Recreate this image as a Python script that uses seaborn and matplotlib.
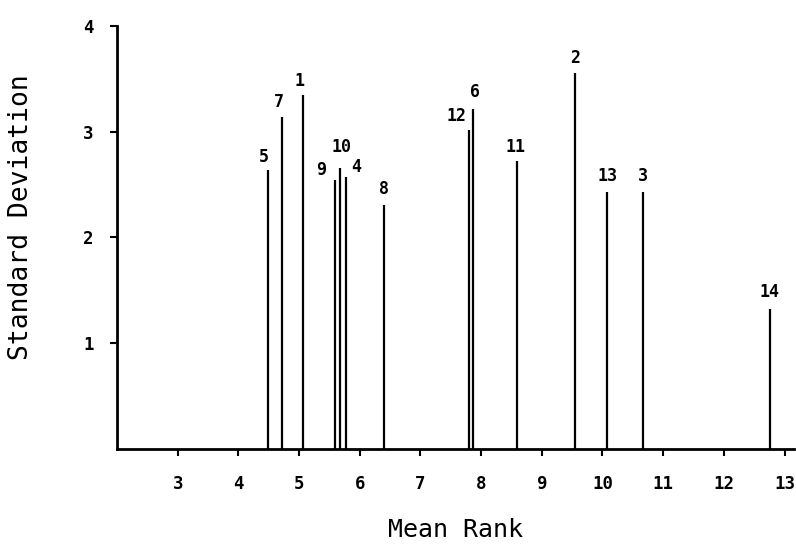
import numpy as np
import matplotlib
matplotlib.use('Agg')
import matplotlib.pyplot as plt
import seaborn as sns

# data
item_ids = ['1', '2', '3', '4', '5', '6', '7', '8', '9', '10', '11', '12', '13', '14']
mean_rank = [5.07, 9.55, 10.66, 5.78, 4.49, 7.87, 4.72, 6.40, 5.59, 5.68, 8.59, 7.80, 10.07, 12.76]
std_dev = [3.35, 3.56, 2.43, 2.57, 2.64, 3.22, 3.14, 2.31, 2.54, 2.66, 2.72, 3.02, 2.43, 1.32]
x_ticks = [3, 4, 5, 6, 7, 8, 9, 10, 11, 12, 13]
y_ticks = [1, 2, 3, 4]

# label offsets in pixels (dx, dy) so crowded labels don't collide
label_offsets = {
    '1': (-4, 14), '2': (0, 15), '3': (0, 16), '4': (10, 10), '5': (-4, 13),
    '6': (2, 17), '7': (-3, 15), '8': (0, 16), '9': (-14, 10), '10': (1, 21),
    '11': (-1, 14), '12': (-12, 14), '13': (1, 16), '14': (0, 17),
}

sns.set_theme(style='ticks')
plt.rcParams['font.family'] = ['DejaVu Sans Mono', 'DejaVu Sans']
plt.rcParams['font.weight'] = 'bold'
for key in ['text.color', 'axes.labelcolor', 'xtick.color', 'ytick.color']:
    plt.rcParams[key] = 'black'

fig = plt.figure(figsize=(7.96, 5.44), dpi=100)
ax = fig.add_axes([0.147, 0.175, 0.85, 0.777])

ax.vlines(mean_rank, 0, std_dev, colors='black', linewidth=1.6)

for name, x, y in zip(item_ids, mean_rank, std_dev):
    dx, dy = label_offsets[name]
    ax.annotate(name, (x, y), xytext=(dx, dy), textcoords='offset pixels',
                ha='center', va='center', fontsize=12, fontweight='bold')

ax.set_xlim(2, 13.15)
ax.set_ylim(0, 4)
ax.set_xticks(x_ticks)
ax.set_yticks(y_ticks)
ax.set_xticklabels([str(t) for t in x_ticks])
ax.set_yticklabels([str(t) for t in y_ticks])

ax.tick_params(axis='x', direction='out', length=5, width=1.5, pad=14, labelsize=12.5)
ax.tick_params(axis='y', direction='out', length=5, width=1.5, pad=12, labelsize=12.5)
for lbl in ax.get_xticklabels() + ax.get_yticklabels():
    lbl.set_fontweight('bold')

sns.despine(ax=ax)
for side in ['left', 'bottom']:
    ax.spines[side].set_linewidth(2)
    ax.spines[side].set_color('black')

ax.set_xlabel('Mean Rank', fontsize=18)
ax.set_ylabel('Standard Deviation', fontsize=19)
ax.xaxis.set_label_coords(0.501, -0.163)
ax.yaxis.set_label_coords(-0.122, 0.549)

fig.savefig('out.png', dpi=100)
